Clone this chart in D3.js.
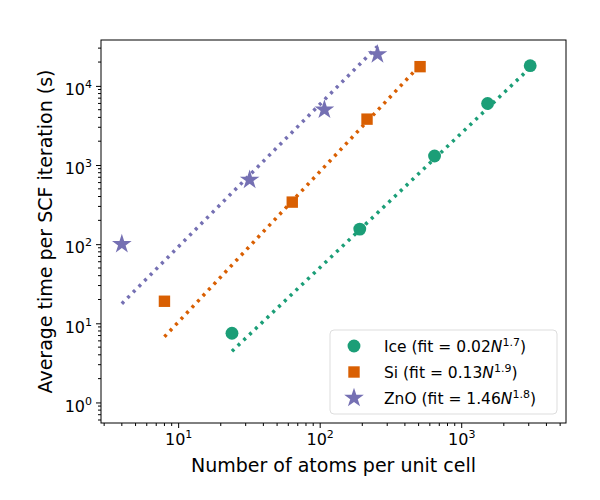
<!DOCTYPE html>
<html><head><meta charset="utf-8">
<script src="https://cdn.jsdelivr.net/npm/d3@7"></script>
<style>body{margin:0;background:#fff}text{font-family:"DejaVu Sans",sans-serif}</style>
</head><body><div id="chart"></div>
<script>
const iceN = [24, 192, 648, 1536, 3072];
const iceT = [7.5, 155, 1300, 6000, 18000];
const siN = [8, 64, 216, 512];
const siT = [19, 340, 3800, 17500];
const znoN = [4, 32, 108, 256];
const znoT = [100, 650, 5000, 25000];
const fits = [
  { name: "Ice", a: 0.02, b: 1.7, color: "#1b9e77", shape: d3.symbolCircle, N: iceN, T: iceT },
  { name: "Si", a: 0.13, b: 1.9, color: "#d95f02", shape: d3.symbolSquare, N: siN, T: siT },
  { name: "ZnO", a: 1.46, b: 1.8, color: "#7570b3", shape: d3.symbolStar, N: znoN, T: znoT }
];
const xTicks = [10, 100, 1000];
const yTicks = [1, 10, 100, 1000, 10000];

const W = 600, H = 500, m = { l: 101, r: 34, t: 40, b: 77 };
const svg = d3.select("#chart").append("svg").attr("width", W).attr("height", H);
const x = d3.scaleLog().domain([2.85, 5500]).range([m.l, W - m.r]);
const y = d3.scaleLog().domain([0.55, 38000]).range([H - m.b, m.t]);
const symSize = s => s === d3.symbolStar ? 120 : 130;

function minors(dom) {
  const out = [];
  for (let e = -1; e <= 5; e++) for (let k = 2; k <= 9; k++) {
    const v = k * Math.pow(10, e);
    if (v > dom[0] && v < dom[1]) out.push(v);
  }
  return out;
}
function supLabels(sel) {
  sel.selectAll(".tick text").each(function (d) {
    const t = d3.select(this).text("").attr("font-size", 16).attr("fill", "#000");
    t.append("tspan").text("10");
    t.append("tspan").attr("dy", -7).attr("font-size", 11).text(Math.round(Math.log10(d)));
  });
}
const xAxis = svg.append("g").attr("transform", `translate(0,${H - m.b})`)
  .call(d3.axisBottom(x).tickValues(xTicks).tickSize(5).tickPadding(6));
supLabels(xAxis);
xAxis.append("g").selectAll("line").data(minors(x.domain())).join("line")
  .attr("x1", d => x(d)).attr("x2", d => x(d)).attr("y2", 3).attr("stroke", "#000");
const yAxis = svg.append("g").attr("transform", `translate(${m.l},0)`)
  .call(d3.axisLeft(y).tickValues(yTicks).tickSize(5).tickPadding(4));
supLabels(yAxis);
yAxis.selectAll(".tick text").attr("dy", "0.55em");
yAxis.append("g").selectAll("line").data(minors(y.domain())).join("line")
  .attr("y1", d => y(d)).attr("y2", d => y(d)).attr("x2", -3).attr("stroke", "#000");
svg.selectAll(".domain").remove();
svg.append("rect").attr("x", m.l).attr("y", m.t).attr("width", W - m.l - m.r)
  .attr("height", H - m.t - m.b).attr("fill", "none").attr("stroke", "#000");

const line = d3.line().x(d => x(d[0])).y(d => y(d[1]));
fits.forEach(f => {
  const n0 = f.N[0], n1 = f.N[f.N.length - 1];
  const pts = d3.range(0, 21).map(i => { const n = n0 * Math.pow(n1 / n0, i / 20); return [n, f.a * Math.pow(n, f.b)]; });
  svg.append("path").attr("d", line(pts)).attr("fill", "none").attr("stroke", f.color)
    .attr("stroke-width", 3.5).attr("stroke-dasharray", "3,5");
  svg.append("g").selectAll("path").data(f.N.map((n, i) => [n, f.T[i]])).join("path")
    .attr("transform", d => `translate(${x(d[0])},${y(d[1])})`)
    .attr("d", d3.symbol(f.shape, symSize(f.shape))).attr("fill", f.color);
});

const lg = svg.append("g").attr("transform", "translate(330,330)");
lg.append("rect").attr("width", 227).attr("height", 84).attr("rx", 4)
  .attr("fill", "#fff").attr("fill-opacity", 0.8).attr("stroke", "#ddd");
fits.forEach((f, i) => {
  const g = lg.append("g").attr("transform", `translate(0,${16 + i * 26})`);
  g.append("path").attr("transform", "translate(24,0)")
    .attr("d", d3.symbol(f.shape, symSize(f.shape))).attr("fill", f.color);
  const t = g.append("text").attr("x", 54).attr("y", 6).attr("font-size", 15.5);
  t.append("tspan").text(`${f.name} (fit = ${f.a.toFixed(2)}`);
  t.append("tspan").attr("font-style", "italic").text("N");
  t.append("tspan").attr("dy", -6).attr("font-size", 11).text(f.b.toFixed(1));
  t.append("tspan").attr("dy", 6).text(")");
});

svg.append("text").attr("x", (m.l + W - m.r) / 2).attr("y", 472).attr("text-anchor", "middle")
  .attr("font-size", 19).text("Number of atoms per unit cell");
svg.append("text").attr("transform", `translate(52,${(m.t + H - m.b) / 2}) rotate(-90)`)
  .attr("text-anchor", "middle").attr("font-size", 19).text("Average time per SCF iteration (s)");
</script></body></html>
